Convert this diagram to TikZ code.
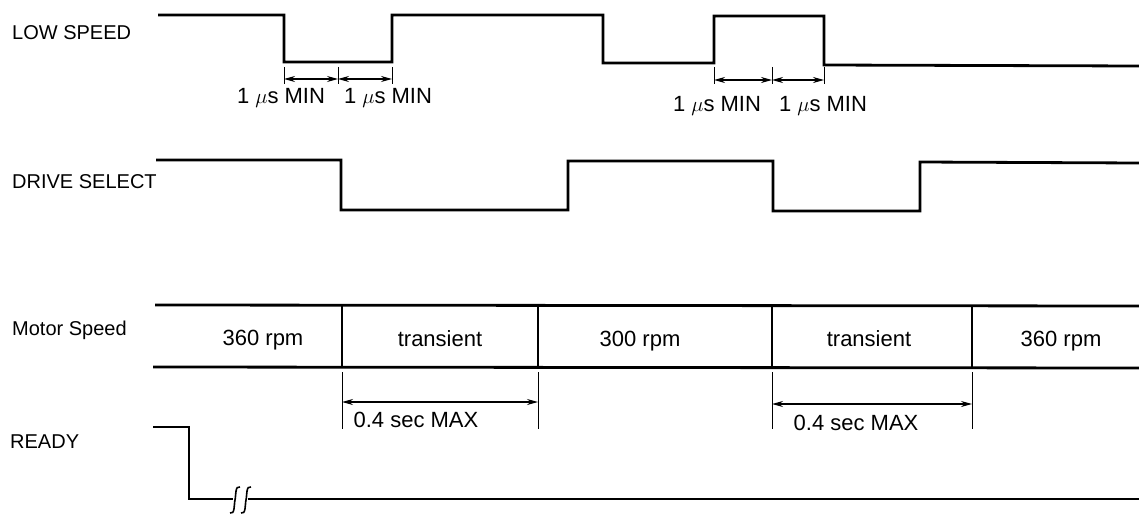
\documentclass[tikz,border=0pt]{standalone}
\usepackage{fontspec}
\setmainfont{Liberation Sans}
\usepackage{tikz}
\usetikzlibrary{arrows.meta}

\tikzset{
    signal/.style={line width=2.8pt, line join=miter},
    divider/.style={line width=2.2pt},
    extline/.style={line width=0.9pt},
    dimline/.style={line width=1.3pt, {Stealth[length=11pt,width=6pt]}-{Stealth[length=11pt,width=6pt]}},
    breakmark/.style={line width=1.6pt},
    lbl/.style={font=\fontsize{20}{24}\selectfont, inner sep=0pt, anchor=base west},
    txt/.style={font=\fontsize{22}{26}\selectfont, inner sep=0pt, anchor=base},
}

\begin{document}
\begin{tikzpicture}[x=1pt, y=-1pt]
    \useasboundingbox (0,0) rectangle (1139,516);

    % signal names
    \node[lbl] (lowspeed) at (12,40) {LOW SPEED};
    \node[lbl] (drivesel) at (12,188) {DRIVE SELECT};
    \node[lbl] (motor) at (12,335) {Motor Speed};
    \node[lbl] (ready) at (10,448) {READY};

    % LOW SPEED
    \draw[signal] (158,15) -- (284,15) -- (284,62) -- (392,62) -- (392,15)
        -- (603,15) -- (603,63) -- (714,63) -- (714,16) -- (824,16)
        -- (824,65) -- (1139,66);
    \foreach \x in {284,338,392,714,772,824}
        \draw[extline] (\x,67) -- (\x,84);
    \coordinate (lsa) at (284,79);
    \coordinate (lsb) at (338,79);
    \coordinate (lsc) at (392,79);
    \coordinate (lsd) at (714,80);
    \coordinate (lse) at (772,80);
    \coordinate (lsf) at (824,80);
    \draw[dimline] (lsa) -- (lsb);
    \draw[dimline] (lsb) -- (lsc);
    \draw[dimline] (lsd) -- (lse);
    \draw[dimline] (lse) -- (lsf);
    \draw
    (281,104) node[txt] (mina) {1 \(\mu\)s MIN}
    (388,104) node[txt] (minb) {1 \(\mu\)s MIN}
    (717,111) node[txt] (minc) {1 \(\mu\)s MIN}
    (823,111) node[txt] (mind) {1 \(\mu\)s MIN}
    ;

    % DRIVE SELECT
    \draw[signal] (156,160) -- (341,160) -- (341,210) -- (568,210) -- (568,161)
        -- (773,161) -- (773,211) -- (920,211) -- (920,162) -- (1139,163);

    % Motor Speed
    \draw[signal] (155,305) -- (1139,306);
    \draw[signal] (153,367) -- (1139,368);
    \foreach \x in {342,538,772,972}
        \draw[divider] (\x,305) -- (\x,367);
    \draw
    (263,345) node[txt] (rpma) {360 rpm}
    (440,346) node[txt] (tra) {transient}
    (640,346) node[txt] (rpmb) {300 rpm}
    (869,346) node[txt] (trb) {transient}
    (1061,346) node[txt] (rpmc) {360 rpm}
    ;
    \foreach \x in {342,538,772,972}
        \draw[extline] (\x,372) -- (\x,429);
    \coordinate (tma) at (342,402);
    \coordinate (tmb) at (538,402);
    \coordinate (tmc) at (772,404);
    \coordinate (tmd) at (972,404);
    \draw[dimline] (tma) -- (tmb);
    \draw[dimline] (tmc) -- (tmd);
    \draw
    (416,427) node[txt] (maxa) {0.4 sec MAX}
    (856,430) node[txt] (maxb) {0.4 sec MAX}
    ;

    % READY
    \draw[signal] (153,427) -- (189,427) -- (189,499) -- (233,499);
    \draw[signal] (248,499) -- (1139,499);
    \foreach \x in {235,246}
        \draw[breakmark] (\x+5,487) .. controls (\x,485) and (\x+1,496) .. (\x,500)
            .. controls (\x-1,504) and (\x,515) .. (\x-5,513);
\end{tikzpicture}
\end{document}
